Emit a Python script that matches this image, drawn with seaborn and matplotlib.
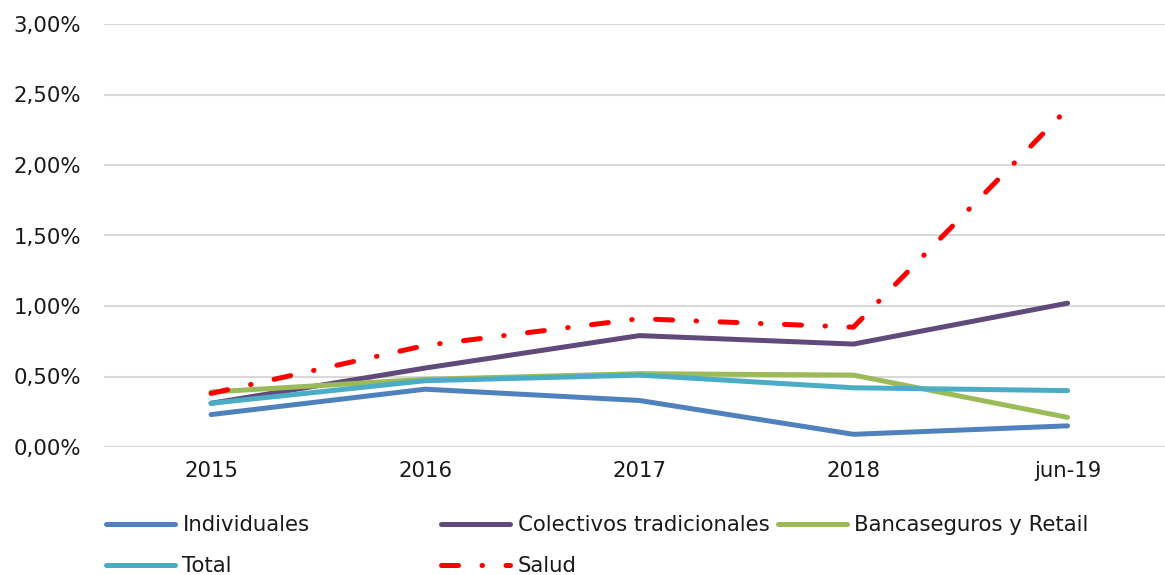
import matplotlib
matplotlib.use("Agg")
import matplotlib.pyplot as plt
from matplotlib.ticker import FuncFormatter, MultipleLocator
from matplotlib.lines import Line2D
import seaborn as sns
import pandas as pd

periods = ["2015", "2016", "2017", "2018", "jun-19"]
individuales = [0.0023, 0.0041, 0.0033, 0.0009, 0.0015]
colectivos = [0.0031, 0.0056, 0.0079, 0.0073, 0.0102]
bancaseguros = [0.0039, 0.0048, 0.0052, 0.0051, 0.0021]
total = [0.0031, 0.0047, 0.0051, 0.0042, 0.0040]
salud = [0.0038, 0.0072, 0.0091, 0.0085, 0.0240]

series_names = ["Individuales", "Colectivos tradicionales", "Bancaseguros y Retail", "Total", "Salud"]
series_values = [individuales, colectivos, bancaseguros, total, salud]
colors = ["#4F81BD", "#604A7B", "#9BBB59", "#4BACC6", "#FF0000"]

sns.set_theme(style="white")
plt.rcParams["font.family"] = ["DejaVu Sans"]

fig = plt.figure(figsize=(11.65, 5.75), dpi=100)
ax = fig.add_axes([104 / 1165, 1 - 447 / 575, 1 - 104 / 1165, (447 - 24) / 575])

lw = 3.6
dash_dot = (0, (3.4, 4.7, 0.1, 4.7))

for name, vals, col in zip(series_names, series_values, colors):
    df = pd.DataFrame({"periodo": range(len(periods)), "valor": vals})
    if name == "Salud":
        sns.lineplot(data=df, x="periodo", y="valor", ax=ax, color=col, lw=lw,
                     sort=False, zorder=6, linestyle=dash_dot,
                     dash_capstyle="round", dash_joinstyle="round")
    else:
        sns.lineplot(data=df, x="periodo", y="valor", ax=ax, color=col, lw=lw,
                     sort=False, zorder=5, solid_capstyle="round",
                     solid_joinstyle="round")

ax.set_xlim(-0.5, 4.455)
ax.set_ylim(0, 0.03)
ax.yaxis.set_major_locator(MultipleLocator(0.005))
ax.yaxis.set_major_formatter(FuncFormatter(lambda v, p: f"{v * 100:.2f}%".replace(".", ",")))
ax.set_xticks(range(len(periods)))
ax.set_xticklabels(periods)
ax.set_xlabel("")
ax.set_ylabel("")
ax.grid(axis="y", color="#D9D9D9", lw=1.5, zorder=0)
ax.grid(axis="x", visible=False)
for s in ax.spines.values():
    s.set_visible(False)
ax.tick_params(axis="y", length=0, pad=16.5, labelsize=15.3, labelcolor="#1a1a1a")
ax.tick_params(axis="x", length=0, pad=10, labelsize=15.3, labelcolor="#1a1a1a")

# legend laid out as three columns of two rows
handles = []
for name, col in zip(series_names, colors):
    if name == "Salud":
        h = Line2D([], [], color=col, lw=lw, linestyle=dash_dot, dash_capstyle="round")
    else:
        h = Line2D([], [], color=col, lw=lw, solid_capstyle="round")
    handles.append(h)

columns = [[0, 3], [1, 4], [2]]
col_x = [106 / 1165, 441 / 1165, 778 / 1165]
for idxs, x0 in zip(columns, col_x):
    leg = fig.legend([handles[i] for i in idxs], [series_names[i] for i in idxs],
                     loc="upper left", bbox_to_anchor=(x0, 1 - 515 / 575),
                     frameon=False, fontsize=15.3, handlelength=3.25,
                     handletextpad=0.35, labelspacing=1.0, borderpad=0,
                     borderaxespad=0)
    for t in leg.get_texts():
        t.set_color("#1a1a1a")

fig.savefig("out.png", dpi=100)
